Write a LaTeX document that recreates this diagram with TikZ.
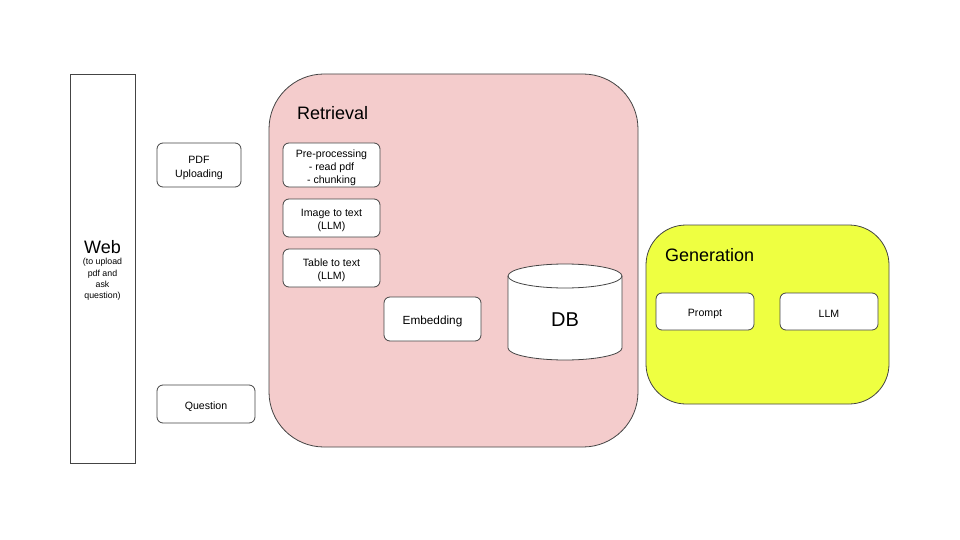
\documentclass[tikz,border=0pt]{standalone}
\usepackage{fontspec}
\setmainfont{Liberation Sans}
\usetikzlibrary{positioning}
\definecolor{linegray}{RGB}{68,68,68}
\definecolor{retfill}{RGB}{244,204,204}
\definecolor{genfill}{RGB}{238,255,65}
\tikzset{
  box/.style={draw=linegray, line width=0.8pt, rounded corners=6pt, fill=white, inner sep=0pt},
  lbl/.style={align=center, font=\fontsize{10.6}{13}\selectfont, inner sep=0pt, yshift=-2.5pt},
  group/.style={draw=linegray, line width=0.8pt},
  title/.style={anchor=west, font=\fontsize{18}{20}\selectfont, inner sep=0pt}
}
\begin{document}
\begin{tikzpicture}[x=1pt,y=-1pt]
\useasboundingbox (0,0) rectangle (960,540);
% Web
\node[draw=linegray, line width=0.8pt, minimum width=65pt, minimum height=389pt, inner sep=0pt] (web) at (102.5,268.5) {};
\node[font=\fontsize{18}{20}\selectfont, inner sep=0pt] (webtxt) at (102.5,247) {Web};
\node[align=center, font=\fontsize{8.8}{11.3}\selectfont, inner sep=0pt, below=4.5pt of webtxt] (websub) {(to upload\\pdf and\\ask\\question)};
% left boxes
\node[box, minimum width=84pt, minimum height=44pt, label={[lbl, font=\fontsize{10.6}{14}\selectfont]center:{PDF\\Uploading}}] (pdf) at (199,165) {};
\node[box, minimum width=98pt, minimum height=38pt, label={[lbl]center:Question}] (question) at (206,404) {};
% Retrieval
\draw[group, fill=retfill, rounded corners=55pt] (269,74) rectangle (638,447);
\node[title] (rettitle) at (297,113) {Retrieval};
\node[box, minimum width=97pt, minimum height=44pt, label={[lbl]center:{Pre-processing\\- read pdf\\- chunking}}] (pre) at (331.5,165) {};
\node[box, minimum width=97pt, minimum height=38pt, label={[lbl]center:{Image to text\\(LLM)}}] (img) at (331.5,218) {};
\node[box, minimum width=97pt, minimum height=38pt, label={[lbl]center:{Table to text\\(LLM)}}] (tab) at (331.5,268) {};
\node[box, minimum width=97pt, minimum height=44pt, label={[lbl, font=\fontsize{11.8}{14}\selectfont]center:Embedding}] (emb) at (432.5,319) {};
% DB cylinder
\draw[group, fill=white] (508,276) -- (508,348) arc[start angle=180, end angle=360, x radius=57, y radius=-12] -- (622,276) arc[start angle=0, end angle=180, x radius=57, y radius=-12] -- cycle;
\draw[group] (508,276) arc[start angle=180, end angle=360, x radius=57, y radius=-12];
\node[font=\fontsize{20}{22}\selectfont, inner sep=0pt] (db) at (565,320) {DB};
% Generation
\draw[group, fill=genfill, rounded corners=40pt] (646,225) rectangle (889,404);
\node[title] (gentitle) at (665,255) {Generation};
\node[box, minimum width=98pt, minimum height=37pt, label={[lbl]center:Prompt}] (prompt) at (705,311.5) {};
\node[box, minimum width=98pt, minimum height=37pt, label={[lbl]center:LLM}] (llm) at (829,311.5) {};
\end{tikzpicture}
\end{document}
